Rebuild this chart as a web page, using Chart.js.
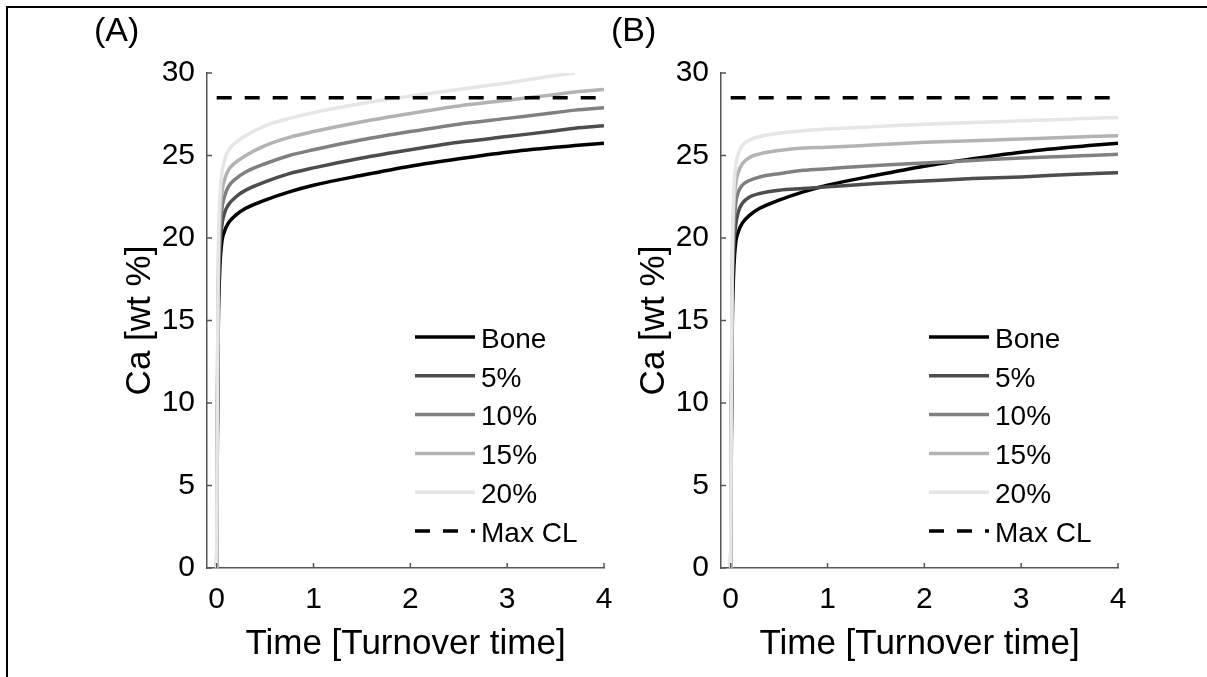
<!DOCTYPE html>
<html>
<head>
<meta charset="utf-8">
<script src="https://cdn.jsdelivr.net/npm/chart.js@4.4.1/dist/chart.umd.min.js"></script>
<style>
  html, body { margin: 0; padding: 0; background: #fff; }
  #page { position: relative; width: 1207px; height: 677px; overflow: hidden; font-family: 'Liberation Sans', Arial, sans-serif; }
  .frame { position: absolute; left: 6px; top: 6px; width: 1220px; height: 700px; border-left: 2px solid #000; border-top: 2px solid #000; }
  canvas { position: absolute; top: 0; }
  #chartA { left: 0; }
  #chartB { left: 514px; }
  .tag { position: absolute; top: 9px; font-size: 34px; line-height: 40px; color: #000; }
</style>
</head>
<body>
<div id="page">
  <div class="frame"></div>
  <canvas id="chartA" width="640" height="677"></canvas>
  <canvas id="chartB" width="693" height="677"></canvas>
  <div class="tag" style="left:94px">(A)</div>
  <div class="tag" style="left:611px">(B)</div>
</div>
<script>
// axis ticks
const xTicks = [0, 1, 2, 3, 4];
const yTicks = [0, 5, 10, 15, 20, 25, 30];

// series names and grey levels
const seriesNames = ['Bone', '5%', '10%', '15%', '20%'];
const seriesColors = ['#000000', '#4d4d4d', '#808080', '#b3b3b3', '#e6e6e6'];

// time in turnover times
const time = [0, 0.005, 0.015, 0.03, 0.05, 0.08, 0.12, 0.2, 0.3, 0.5, 0.75, 1, 1.5, 2, 2.5, 3, 3.5, 3.7, 4];

// Ca [wt %]
const bone = [0, 6, 14, 17.8, 19.6, 20.4, 20.9, 21.4, 21.8, 22.3, 22.8, 23.2, 23.8, 24.35, 24.8, 25.2, 25.5, 25.6, 25.75];

// panel A
const p5A  = [0, 7, 15, 18.8, 20.6, 21.5, 22.0, 22.5, 22.9, 23.4, 23.9, 24.25, 24.85, 25.35, 25.8, 26.15, 26.5, 26.65, 26.8];
const p10A = [0, 7.5, 16, 19.8, 21.6, 22.5, 23.1, 23.6, 24.0, 24.5, 25.0, 25.35, 25.95, 26.45, 26.9, 27.25, 27.6, 27.75, 27.9];
const p15A = [0, 8, 17, 20.8, 22.6, 23.5, 24.1, 24.6, 25.0, 25.6, 26.1, 26.45, 27.05, 27.55, 28.0, 28.35, 28.7, 28.85, 29.0];
const p20A = [0, 9, 18.2, 22.0, 23.8, 24.7, 25.3, 25.8, 26.2, 26.8, 27.25, 27.6, 28.15, 28.6, 29.0, 29.4, 29.85, 30.0, null];

// panel B
const p5B  = [0, 7, 15.5, 19.2, 20.7, 21.6, 22.1, 22.5, 22.7, 22.9, 23.0, 23.1, 23.3, 23.45, 23.6, 23.7, 23.85, 23.9, 23.96];
const p10B = [0, 7.5, 16.5, 20.3, 22.0, 22.8, 23.2, 23.5, 23.7, 23.9, 24.1, 24.2, 24.4, 24.55, 24.7, 24.85, 24.95, 25.0, 25.07];
const p15B = [0, 8, 17.5, 21.5, 23.2, 24.0, 24.5, 24.9, 25.1, 25.3, 25.45, 25.5, 25.65, 25.8, 25.9, 26.0, 26.1, 26.15, 26.2];
const p20B = [0, 9, 18.5, 22.5, 24.3, 25.1, 25.6, 25.95, 26.15, 26.35, 26.5, 26.6, 26.75, 26.9, 27.0, 27.1, 27.2, 27.25, 27.3];

// max calcium load
const maxCLTime = [0, 4];
const maxCL = 28.5;

const fontFamily = "'Liberation Sans', Arial, sans-serif";
const axisColor = '#555555';

// MATLAB style ticks pointing into the plot
const inwardTicks = {
  id: 'inwardTicks',
  afterDraw(chart) {
    const {ctx, chartArea, scales: {x, y}} = chart;
    ctx.save();
    ctx.strokeStyle = axisColor;
    ctx.lineWidth = 1.5;
    ctx.beginPath();
    x.ticks.forEach(t => {
      const px = x.getPixelForValue(t.value);
      ctx.moveTo(px, chartArea.bottom);
      ctx.lineTo(px, chartArea.bottom - 5);
    });
    y.ticks.forEach(t => {
      const py = y.getPixelForValue(t.value);
      ctx.moveTo(chartArea.left, py);
      ctx.lineTo(chartArea.left + 5, py);
    });
    ctx.stroke();
    ctx.restore();
  }
};

// legend inside the axes, lower right
const legendBox = {
  id: 'legendBox',
  afterDraw(chart, args, opts) {
    const ctx = chart.ctx;
    chart.data.datasets.forEach((ds, i) => {
      const y = opts.top + i * opts.rowGap;
      ctx.save();
      ctx.strokeStyle = ds.borderColor;
      ctx.lineWidth = ds.borderWidth;
      ctx.setLineDash(ds.borderDash || []);
      ctx.beginPath();
      ctx.moveTo(opts.left, y);
      ctx.lineTo(opts.left + opts.lineLen, y);
      ctx.stroke();
      ctx.setLineDash([]);
      ctx.fillStyle = '#000';
      ctx.font = opts.fontSize + 'px ' + fontFamily;
      ctx.textBaseline = 'middle';
      ctx.fillText(ds.label, opts.left + opts.lineLen + opts.gap, y + 3);
      ctx.restore();
    });
  }
};

function makePanel(id, seriesValues) {
  const canvas = document.getElementById(id);
  // later series are drawn over earlier ones, dashed line on top
  const datasets = seriesValues.map((vals, i) => ({
    label: seriesNames[i],
    data: time.map((t, k) => ({x: t, y: vals[k]})),
    borderColor: seriesColors[i],
    borderWidth: 3.5,
    pointRadius: 0,
    cubicInterpolationMode: 'monotone',
    clip: 0,
    order: seriesValues.length - i
  }));
  datasets.push({
    label: 'Max CL',
    data: maxCLTime.map(t => ({x: t, y: maxCL})),
    borderColor: '#000000',
    borderWidth: 3.5,
    borderDash: [15, 13],
    pointRadius: 0,
    order: 0
  });

  return new Chart(canvas, {
    type: 'line',
    data: {datasets},
    options: {
      responsive: false,
      animation: false,
      layout: {padding: {left: 110, top: 73, right: canvas.width - 604, bottom: 0}},
      plugins: {
        legend: {display: false},
        tooltip: {enabled: false},
        legendBox: {left: 415, top: 337, rowGap: 38.8, lineLen: 60, gap: 6, fontSize: 28}
      },
      scales: {
        x: {
          type: 'linear',
          min: -0.1,
          max: 4,
          afterBuildTicks: s => { s.ticks = xTicks.map(v => ({value: v})); },
          afterFit: s => { s.height = 109; },
          grid: {display: true, drawOnChartArea: false, drawTicks: false},
          border: {display: true, color: axisColor, width: 1.5},
          ticks: {color: '#000', font: {size: 30, family: fontFamily}, padding: 14, maxRotation: 0, autoSkip: false},
          title: {display: true, text: 'Time [Turnover time]', color: '#000', font: {size: 35, family: fontFamily}, padding: {top: 0, bottom: 12}}
        },
        y: {
          type: 'linear',
          min: 0,
          max: 30,
          afterBuildTicks: s => { s.ticks = yTicks.map(v => ({value: v})); },
          afterFit: s => { s.width = 97; },
          grid: {display: true, drawOnChartArea: false, drawTicks: false},
          border: {display: true, color: axisColor, width: 1.5},
          ticks: {color: '#000', font: {size: 30, family: fontFamily}, padding: 12},
          title: {display: true, text: 'Ca [wt %]', color: '#000', font: {size: 35, family: fontFamily}, padding: {top: 9, bottom: 0}}
        }
      }
    },
    plugins: [inwardTicks, legendBox]
  });
}

makePanel('chartA', [bone, p5A, p10A, p15A, p20A]);
makePanel('chartB', [bone, p5B, p10B, p15B, p20B]);
</script>
</body>
</html>
